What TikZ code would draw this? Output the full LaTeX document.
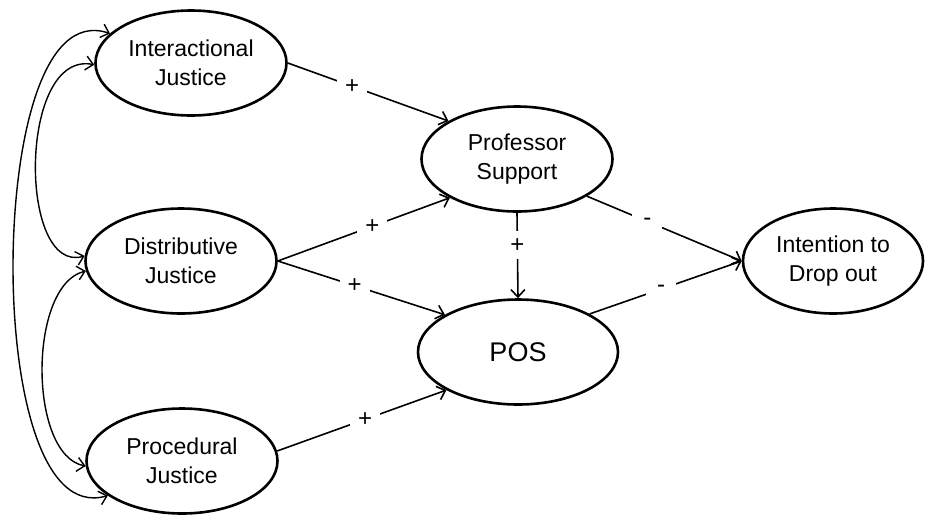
\documentclass[tikz,border=0pt]{standalone}
\usepackage{fontspec}
\setmainfont{Liberation Sans}
\usetikzlibrary{shapes.geometric,arrows.meta}
\begin{document}
\begin{tikzpicture}[x=1pt,y=-1pt,
  var/.style={ellipse,draw,line width=2.6pt,inner sep=0pt,minimum width=191pt,minimum height=105pt,align=center,font=\fontsize{23}{29}\selectfont},
  conn/.style={line width=1.6pt,-{Straight Barb[length=7.5pt,width=14pt]}},
  cov/.style={line width=1.4pt,{Straight Barb[length=7.5pt,width=14pt]}-{Straight Barb[length=7.5pt,width=14pt]}},
  sign/.style={fill=white,inner sep=0pt,minimum width=30pt,minimum height=28pt,font=\fontsize{24}{28}\selectfont}]
\useasboundingbox (0,0) rectangle (925,517);
\node[var] (ij) at (191,63) {Interactional\\Justice};
\node[var] (ds) at (181,261) {Distributive\\Justice};
\node[var] (pr) at (182,461) {Procedural\\Justice};
\node[var] (ps) at (517,159) {Professor\\Support};
\node[var,minimum width=200pt,font=\fontsize{27}{32}\selectfont] (pos) at (518,352) {POS};
\node[var,minimum width=180pt] (it) at (833,261) {Intention to\\Drop out};
% paths
\draw[conn] (ij.east) -- node[sign,pos=0.40] {+} (ps.151);
\draw[conn] (ds.east) -- node[sign,pos=0.55] {+} (ps.210);
\draw[conn] (ds.east) -- node[sign,pos=0.46] {+} (pos.153);
\draw[conn] (ps.south) -- node[sign,pos=0.38] {+} (pos.north);
\draw[conn] (ps.-28) -- node[sign,pos=0.39] {-} (it.west);
\draw[conn] (pos.28) -- node[sign,pos=0.47] {-} (it.west);
\draw[conn] (pr.6) -- node[sign,pos=0.52] {+} (pos.208);
% covariances
\draw[cov] (ij.160) .. controls (40,10) and (13,150) .. (13,267) .. controls (13,384) and (40,515) .. (pr.205);
\draw[cov] (ij.181) .. controls (18,50) and (18,275) .. (ds.177);
\draw[cov] (ds.186) .. controls (28,285) and (28,455) .. (pr.183);
\end{tikzpicture}
\end{document}
